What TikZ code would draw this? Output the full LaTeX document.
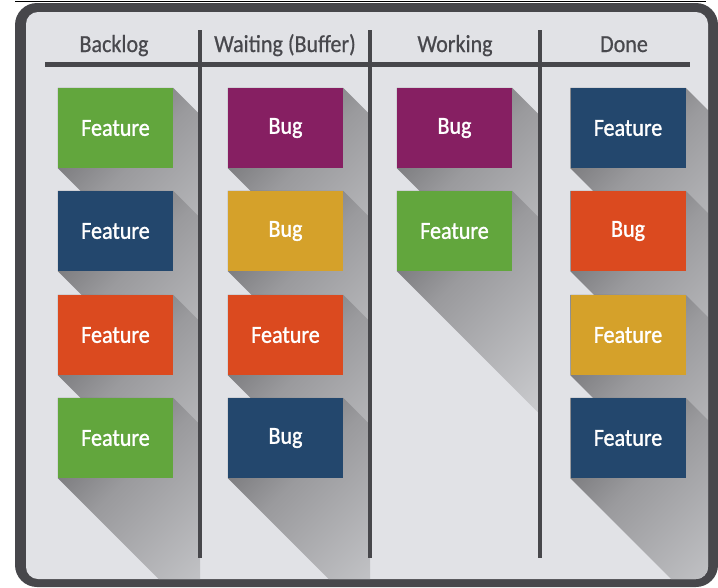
\documentclass[tikz,border=0pt]{standalone}
\usepackage{fontspec}
\newfontfamily\handfont[FakeStretch=0.9, FakeBold=0.6]{Carlito}
\newfontfamily\cardfont[FakeStretch=0.9, FakeBold=1.2]{Carlito}
\usetikzlibrary{calc}
\definecolor{boardrim}{HTML}{47474B}
\definecolor{boardbg}{HTML}{E1E2E6}
\definecolor{headtext}{HTML}{48484D}
\definecolor{cgreen}{HTML}{62A63D}
\definecolor{cnavy}{HTML}{23476D}
\definecolor{corange}{HTML}{DB4A1F}
\definecolor{cpurple}{HTML}{861F62}
\definecolor{cmustard}{HTML}{D5A12A}
\definecolor{shdark}{HTML}{5E5E61}
\definecolor{shmid}{HTML}{9A9A9D}
\definecolor{shmidb}{HTML}{D3D4D7}
\definecolor{shlight}{HTML}{DFE0E3}
\pgfdeclareverticalshading{castshade}{100bp}{color(0bp)=(shlight); color(30bp)=(shmidb); color(65bp)=(shmid); color(85bp)=(shdark); color(100bp)=(shdark)}
\pgfdeclarelayer{boardlayer}
\pgfdeclarelayer{shadowlayer}
\pgfsetlayers{boardlayer,shadowlayer,main}
\tikzset{
  card/.style={minimum width=115pt, minimum height=80pt, inner sep=0pt, text=white,
    font=\cardfont\fontsize{24.5}{24.5}\selectfont},
  header/.style={text=headtext, font=\handfont\fontsize{24.5}{24.5}\selectfont, anchor=base},
  rule/.style={draw=boardrim, line width=5pt},
  divider/.style={draw=boardrim, line width=4.5pt},
  shadowfill/.style={shading=castshade, shading angle=45, draw=none},
}
\newcommand\castshadow[1]{\shade[shadowfill] (#1.north west) -- (#1.north east)
  -- ($(#1.north east)+(160,160)$) -- ($(#1.south east)+(160,160)$)
  -- ($(#1.south west)+(160,160)$) -- (#1.south west) -- cycle;}
\newcommand\boardclip{\clip[rounded corners=12pt] (26,12) rectangle (708,579);}
\begin{document}
\begin{tikzpicture}[x=1pt, y=-1pt]
\useasboundingbox (0,0) rectangle (718,587);
\begin{pgfonlayer}{boardlayer}
  \fill[white] (0,0) rectangle (718,587);
  \draw[black, line width=1pt] (15,1.5) -- (706,1.5);
  \fill[boardrim, rounded corners=22pt] (15,3) rectangle (718,587);
  \fill[boardbg, rounded corners=12pt] (26,12) rectangle (708,579);
\end{pgfonlayer}

% headers
\node[header] (hb) at (114,52) {Backlog};
\node[header] (hw) at (285,52) {Waiting (Buffer)};
\node[header] (hk) at (455,52) {Working};
\node[header] (hd) at (624,52) {Done};

\draw[rule] (45,64) -- (690,64);
\draw[divider] (200,30) -- (200,558);
\draw[divider] (370,30) -- (370,558);
\draw[divider] (540,30) -- (540,558);

% cards
\node[card, fill=cgreen]   (b1) at (115.5,128) {Feature};
\node[card, fill=cnavy]    (b2) at (115.5,231) {Feature};
\node[card, fill=corange]  (b3) at (115.5,335) {Feature};
\node[card, fill=cgreen]   (b4) at (115.5,438) {Feature};

\node[card, fill=cpurple]  (w1) at (285.5,128) {Bug};
\node[card, fill=cmustard] (w2) at (285.5,231) {Bug};
\node[card, fill=corange]  (w3) at (285.5,335) {Feature};
\node[card, fill=cnavy]    (w4) at (285.5,438) {Bug};

\node[card, fill=cpurple]  (k1) at (454.5,128) {Bug};
\node[card, fill=cgreen]   (k2) at (454.5,231) {Feature};

\node[card, fill=cnavy]    (d1) at (628,128) {Feature};
\node[card, fill=corange]  (d2) at (628,231) {Bug};
\node[card, fill=cmustard] (d3) at (628,335) {Feature};
\node[card, fill=cnavy]    (d4) at (628,438) {Feature};

% shadows
\begin{pgfonlayer}{shadowlayer}
  \begin{scope}
    \boardclip
    \clip (26,64) rectangle (200,579);
    \castshadow{b1}\castshadow{b2}\castshadow{b3}\castshadow{b4}
  \end{scope}
  \begin{scope}
    \boardclip
    \clip (200,64) rectangle (370,579);
    \castshadow{w1}\castshadow{w2}\castshadow{w3}\castshadow{w4}
  \end{scope}
  \begin{scope}
    \boardclip
    \clip (370,64) rectangle (540,579);
    \castshadow{k1}\castshadow{k2}
  \end{scope}
  \begin{scope}
    \boardclip
    \clip (540,64) rectangle (708,579);
    \castshadow{d1}\castshadow{d2}\castshadow{d3}\castshadow{d4}
  \end{scope}
\end{pgfonlayer}
\end{tikzpicture}
\end{document}
